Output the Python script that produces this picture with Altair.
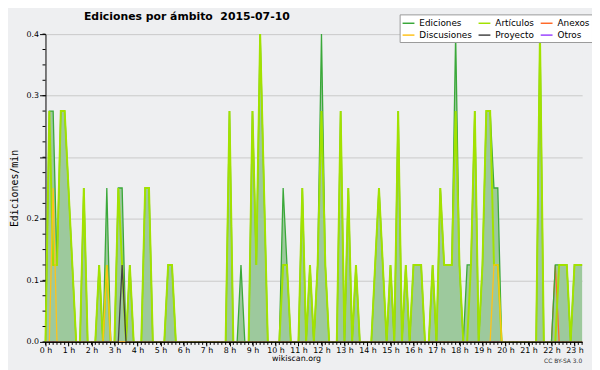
import altair as alt
import pandas as pd

# 10-minute bins, 00:00 .. 23:20 (minutes since midnight)
minutos = list(range(0, 1410, 10))

# edits per minute, one value per 10-minute bin (6 per hour)
ediciones = [
    0, .3, .3, .1, .3, .3,    # 0 h
    .2, .1, 0, 0, .2, 0,      # 1 h
    0, 0, .1, 0, .2, 0,       # 2 h
    0, .2, .2, 0, .1, 0,      # 3 h
    0, 0, .2, .2, 0, 0,       # 4 h
    0, 0, .1, .1, 0, 0,       # 5 h
    0, 0, 0, 0, 0, 0,         # 6 h
    0, 0, 0, 0, 0, 0,         # 7 h
    .3, 0, 0, .1, 0, 0,       # 8 h
    .3, .1, .4, .2, 0, 0,     # 9 h
    0, 0, .2, .1, 0, 0,       # 10 h
    0, .2, 0, .1, 0, .1,      # 11 h
    .4, .1, 0, 0, 0, .3,      # 12 h
    0, .2, 0, .1, 0, 0,       # 13 h
    0, 0, .1, .2, .1, 0,      # 14 h
    .1, 0, .3, 0, .1, 0,      # 15 h
    .1, .1, .1, 0, 0, .1,     # 16 h
    0, .2, .1, .1, .1, .4,    # 17 h
    .1, 0, .1, .1, .3, 0,     # 18 h
    .1, .3, .3, .2, .2, 0,    # 19 h
    0, 0, 0, 0, 0, 0,         # 20 h
    0, 0, 0, .4, 0, 0,        # 21 h
    0, .1, .1, .1, .1, 0,     # 22 h
    .1, .1, .1,               # 23 h
]

articulos = [
    0, .3, .1, .1, .3, .3,
    .2, .1, 0, 0, .2, 0,
    0, 0, .1, 0, .1, 0,
    0, .2, .1, 0, .1, 0,
    0, 0, .2, .2, 0, 0,
    0, 0, .1, .1, 0, 0,
    0, 0, 0, 0, 0, 0,
    0, 0, 0, 0, 0, 0,
    .3, 0, 0, 0, 0, 0,
    .3, .1, .4, .2, 0, 0,
    0, 0, .1, .1, 0, 0,
    0, .2, 0, .1, 0, .1,
    .3, .1, 0, 0, 0, .3,
    0, .2, 0, .1, 0, 0,
    0, 0, .1, .2, .1, 0,
    .1, 0, .3, 0, .1, 0,
    .1, .1, .1, 0, 0, .1,
    0, .2, .1, .1, .1, .3,
    .1, 0, 0, .1, .3, 0,
    .1, .3, .3, .1, .1, 0,
    0, 0, 0, 0, 0, 0,
    0, 0, 0, .4, 0, 0,
    0, 0, .1, .1, .1, 0,
    .1, .1, .1,
]

# sparse series: {minute: edits per minute}
discusiones_nz = {20: .2, 160: .1, 1170: .1, 1180: .1}
anexos_nz = {1330: .1}
proyecto_nz = {200: .1}
otros_nz = {}

series = {
    "Ediciones": ediciones,
    "Artículos": articulos,
    "Discusiones": [discusiones_nz.get(m, 0) for m in minutos],
    "Anexos": [anexos_nz.get(m, 0) for m in minutos],
    "Proyecto": [proyecto_nz.get(m, 0) for m in minutos],
    "Otros": [otros_nz.get(m, 0) for m in minutos],
}

legend_order = ["Ediciones", "Artículos", "Anexos", "Discusiones", "Proyecto", "Otros"]
legend_colors = ["#3aa83a", "#a2e200", "#ff6a2a", "#ffc21a", "#444444", "#9a44ff"]
draw_order = ["Otros", "Anexos", "Ediciones", "Artículos", "Discusiones", "Proyecto"]

hour_ticks = list(range(0, 1400, 60))
y_ticks = [0, 0.08, 0.16, 0.24, 0.32, 0.4]
y_minor = [0, .02, .04, .06, .08, .1, .12, .14, .16, .18, .2, .22, .24, .26, .28, .3,
           .32, .34, .36, .38, .4]

wide = pd.DataFrame({"min": minutos, "ediciones": ediciones})
long = pd.DataFrame(
    [{"min": m, "serie": s, "valor": v}
     for s in draw_order for m, v in zip(minutos, series[s])]
)

W, H = 544, 312
FONT = "DejaVu Sans"
xs = alt.Scale(domain=[0, 1400], nice=False, zero=False)
ys = alt.Scale(domain=[0, 0.4], nice=False)

x_axis = alt.Axis(
    values=hour_ticks, labelExpr="floor(datum.value/60) + ' h'",
    tickSize=4, tickColor="black", domainColor="black", labelColor="black",
    labelFont=FONT, labelFontSize=8, labelPadding=1, labelOverlap=False,
    labelFlush=False, grid=False, zindex=1,
    title="wikiscan.org", titleFont=FONT, titleFontSize=8, titleFontWeight="normal",
    titleColor="black", titleX=254, titleY=19, titleAlign="center",
    titleBaseline="alphabetic", titleAngle=0,
)
y_axis = alt.Axis(
    values=y_ticks,
    labelExpr="datum.value == 0.24 ? '' : format(datum.value, '.1f')",
    tickSize=6, tickColor="black", domainColor="black", labelColor="black",
    labelFont=FONT, labelFontSize=8, labelPadding=1, labelOverlap=False,
    grid=True, gridColor="#c9c9c9", gridWidth=1,
    title="Ediciones/min", titleFont="DejaVu Sans Mono", titleFontSize=10,
    titleFontWeight="normal", titleColor="black", titleX=-31, titleY=156,
    titleAngle=270, titleAlign="center", titleBaseline="middle",
)

X = lambda f: alt.X(f, scale=xs, axis=x_axis)
Y = lambda f: alt.Y(f, scale=ys, axis=y_axis)

area = alt.Chart(wide).mark_area(color="#9dc99d", opacity=1).encode(
    x=X("min:Q"), y=Y("ediciones:Q"),
)

widths = {"Artículos": 2, "Ediciones": 1.3}
lines = []
for s in draw_order:
    lines.append(
        alt.Chart(long).transform_filter(alt.datum.serie == s)
        .mark_line(strokeWidth=widths.get(s, 1.3), interpolate="linear")
        .encode(
            x=X("min:Q"), y=Y("valor:Q"),
            color=alt.Color(
                "serie:N",
                scale=alt.Scale(domain=legend_order, range=legend_colors),
                sort=legend_order,
                legend=alt.Legend(
                    orient="none", legendX=359, legendY=-20, direction="horizontal",
                    columns=3, title=None, fillColor="white", strokeColor="#999999",
                    padding=2, rowPadding=0, columnPadding=3,
                    symbolType="stroke", symbolSize=144, symbolStrokeWidth=1.5,
                    labelFont=FONT, labelFontSize=9, labelColor="black",
                    labelOffset=4, labelLimit=200,
                ),
            ),
        )
    )

xminor = alt.Chart(pd.DataFrame({"min": minutos})).mark_rule(color="black", strokeWidth=1).encode(
    x=X("min:Q"), y=alt.value(H), y2=alt.value(H + 3)
)
yminor = alt.Chart(pd.DataFrame({"v": y_minor})).mark_rule(color="black", strokeWidth=1).encode(
    y=Y("v:Q"), x=alt.value(-3), x2=alt.value(0)
)

titulo = alt.Chart(pd.DataFrame({"t": ["Ediciones por ámbito\u00a0\u00a02015-07-10"]})).mark_text(
    align="left", baseline="alphabetic", font=FONT, fontSize=11, fontWeight="bold", color="black"
).encode(text="t:N", x=alt.value(39), y=alt.value(-14))

lic = alt.Chart(pd.DataFrame({"t": ["CC BY-SA 3.0"]})).mark_text(
    align="right", baseline="alphabetic", font=FONT, fontSize=6, color="#333333"
).encode(text="t:N", x=alt.value(W), y=alt.value(H + 21))

chart = alt.layer(area, *lines, xminor, yminor, titulo, lic).properties(
    width=W, height=H,
    autosize=alt.AutoSizeParams(type="none"),
    padding={"left": 38, "top": 24, "right": 10, "bottom": 26},
    background="#eeeff1",
).configure_view(fill="#eeeff1", stroke=None)

chart.save("out.html", embed_options={"renderer": "svg", "actions": False})
